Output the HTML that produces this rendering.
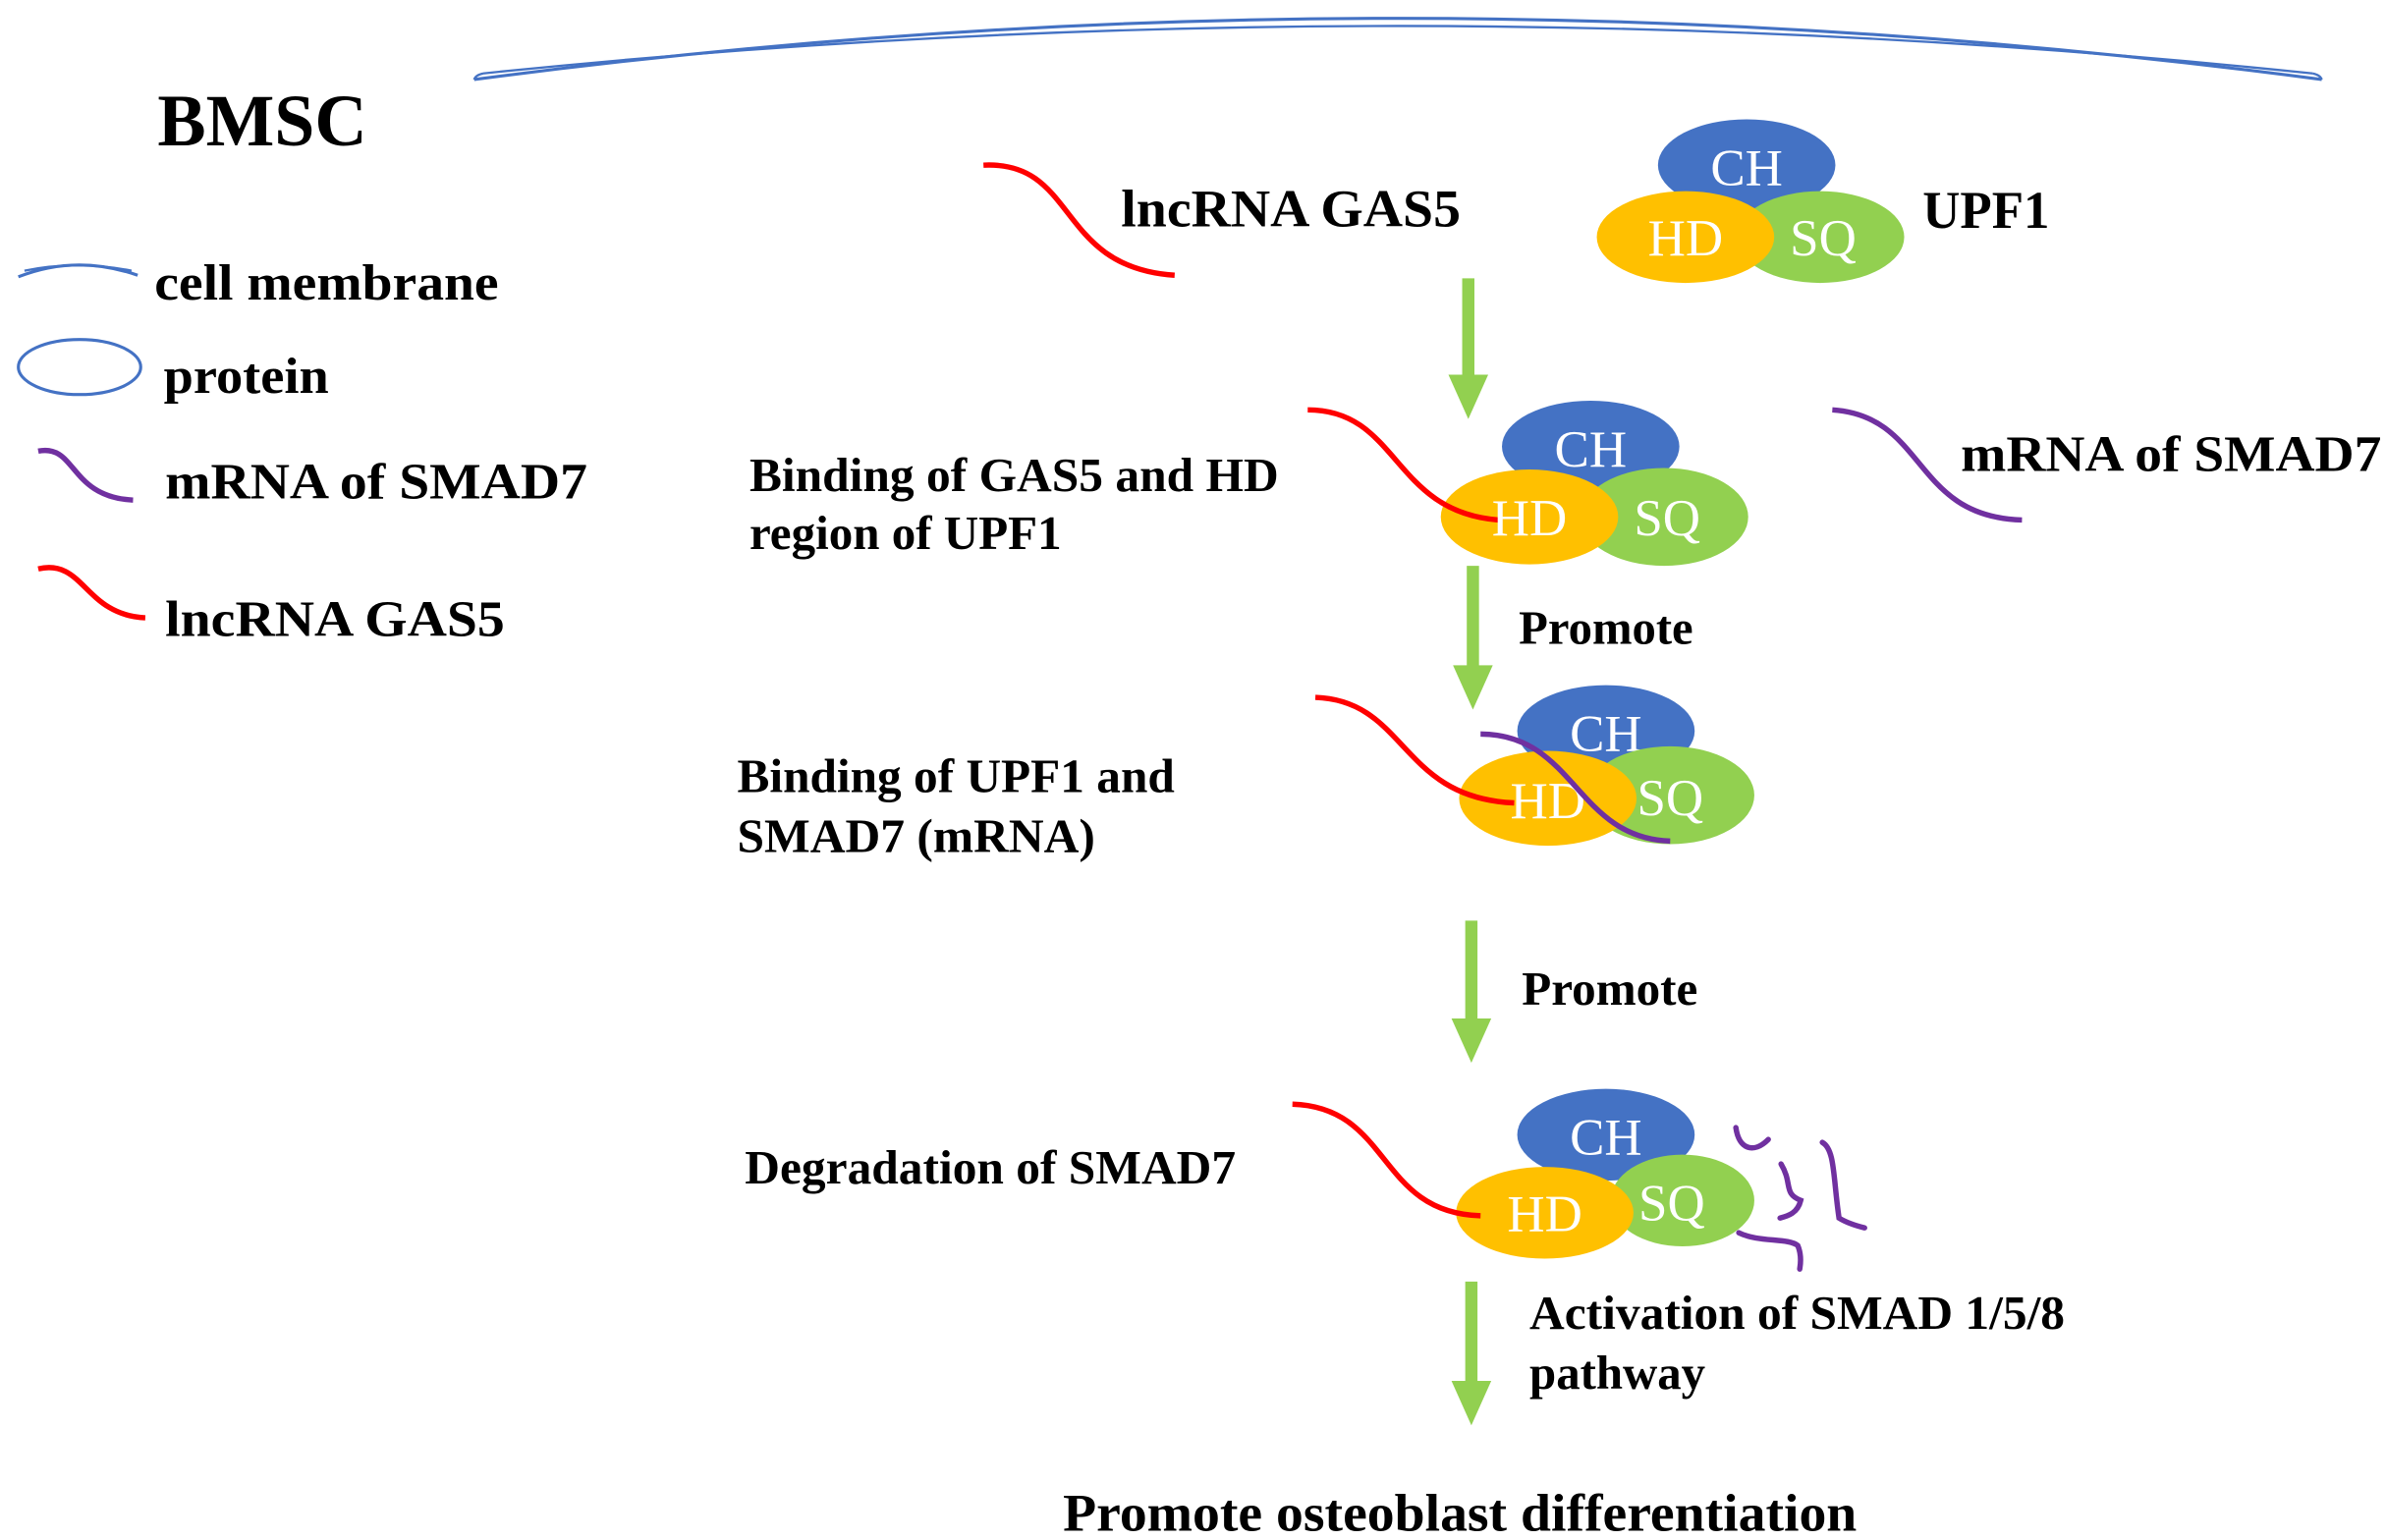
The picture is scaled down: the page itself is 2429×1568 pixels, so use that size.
<!DOCTYPE html>
<html><head><meta charset="utf-8"><style>
html,body{margin:0;padding:0;background:#fff;}
svg{display:block;}
text{font-family:"Liberation Serif",serif;}
.b{font-weight:bold;fill:#000;}
.w{fill:#fff;font-size:34px;}
</style></head><body>
<svg width="2429" height="1568" viewBox="0 0 1560 1007" preserveAspectRatio="none" xmlns="http://www.w3.org/2000/svg">
<!-- membrane -->
<path d="M310,52 Q915,-28 1518,52" fill="none" stroke="#4472c4" stroke-width="2"/>
<path d="M316,48 Q915,-14 1512,48" fill="none" stroke="#4472c4" stroke-width="1.5"/>
<path d="M310,52 Q311,49 316,48 M1518,52 Q1517,49 1512,48" fill="none" stroke="#4472c4" stroke-width="1.5"/>
<text x="103" y="95" class="b" font-size="48" textLength="137" lengthAdjust="spacingAndGlyphs">BMSC</text>
<!-- legend -->
<path d="M12,181 Q50,166 90,180" fill="none" stroke="#4472c4" stroke-width="2"/>
<path d="M16,177 Q50,170 86,177" fill="none" stroke="#4472c4" stroke-width="1.5"/>
<text x="101" y="196" class="b" font-size="33" textLength="225" lengthAdjust="spacingAndGlyphs">cell membrane</text>
<ellipse cx="52" cy="240" rx="40" ry="18" fill="none" stroke="#4472c4" stroke-width="2"/>
<text x="107" y="257" class="b" font-size="33" textLength="108" lengthAdjust="spacingAndGlyphs">protein</text>
<path d="M25,295 C50,290 45,325 87,327" fill="none" stroke="#7030a0" stroke-width="3.5"/>
<text x="108" y="326" class="b" font-size="33" textLength="276" lengthAdjust="spacingAndGlyphs">mRNA of SMAD7</text>
<path d="M25,372 C55,365 55,402 95,404" fill="none" stroke="#ff0000" stroke-width="3.5"/>
<text x="108" y="416" class="b" font-size="33" textLength="222" lengthAdjust="spacingAndGlyphs">lncRNA GAS5</text>
<!-- top -->
<path d="M643,108 C705,105 690,175 768,180" fill="none" stroke="#ff0000" stroke-width="3.5"/>
<text x="733" y="148" class="b" font-size="35" textLength="222" lengthAdjust="spacingAndGlyphs">lncRNA GAS5</text>
<ellipse cx="1142" cy="108" rx="58" ry="30" fill="#4472c4"/>
<text x="1142" y="121" class="w" text-anchor="middle">CH</text>
<ellipse cx="1190" cy="155" rx="55" ry="30" fill="#92d050"/>
<ellipse cx="1102" cy="155" rx="58" ry="30" fill="#ffc000"/>
<text x="1102" y="167" class="w" text-anchor="middle">HD</text>
<text x="1192" y="167" class="w" text-anchor="middle">SQ</text>
<text x="1257" y="149" class="b" font-size="35" textLength="83" lengthAdjust="spacingAndGlyphs">UPF1</text>
<!-- arrows -->
<g fill="#92d050" stroke="#92d050">
<line x1="960" y1="182" x2="960" y2="250" stroke-width="8"/><polygon points="947,245 973,245 960,274" stroke="none"/>
<line x1="963" y1="370" x2="963" y2="440" stroke-width="8"/><polygon points="950,435 976,435 963,464" stroke="none"/>
<line x1="962" y1="602" x2="962" y2="671" stroke-width="8"/><polygon points="949,666 975,666 962,695" stroke="none"/>
<line x1="962" y1="838" x2="962" y2="908" stroke-width="8"/><polygon points="949,903 975,903 962,932" stroke="none"/>
</g>
<!-- group 2 -->
<ellipse cx="1040" cy="292" rx="58" ry="30" fill="#4472c4"/>
<text x="1040" y="305" class="w" text-anchor="middle">CH</text>
<ellipse cx="1088" cy="338" rx="55" ry="32" fill="#92d050"/>
<ellipse cx="1000" cy="338" rx="58" ry="31" fill="#ffc000"/>
<path d="M855,268 C915,268 910,335 980,340" fill="none" stroke="#ff0000" stroke-width="3.5"/>
<text x="1000" y="350" class="w" text-anchor="middle">HD</text>
<text x="1090" y="350" class="w" text-anchor="middle">SQ</text>
<text x="490" y="321" class="b" font-size="31" textLength="346" lengthAdjust="spacingAndGlyphs">Binding of GAS5 and HD</text>
<text x="490" y="359" class="b" font-size="31" textLength="204" lengthAdjust="spacingAndGlyphs">region of UPF1</text>
<path d="M1198,268 C1260,272 1250,338 1322,340" fill="none" stroke="#7030a0" stroke-width="3.5"/>
<text x="1282" y="308" class="b" font-size="33" textLength="275" lengthAdjust="spacingAndGlyphs">mRNA of SMAD7</text>
<text x="993" y="421" class="b" font-size="31" textLength="114" lengthAdjust="spacingAndGlyphs">Promote</text>
<!-- group 3 -->
<ellipse cx="1050" cy="478" rx="58" ry="30" fill="#4472c4"/>
<text x="1050" y="491" class="w" text-anchor="middle">CH</text>
<ellipse cx="1092" cy="520" rx="55" ry="32" fill="#92d050"/>
<ellipse cx="1012" cy="522" rx="58" ry="31" fill="#ffc000"/>
<path d="M860,456 C920,458 915,522 990,525" fill="none" stroke="#ff0000" stroke-width="3.5"/>
<text x="1012" y="535" class="w" text-anchor="middle">HD</text>
<text x="1092" y="533" class="w" text-anchor="middle">SQ</text>
<path d="M968,480 C1030,480 1030,548 1092,550" fill="none" stroke="#7030a0" stroke-width="3.5"/>
<text x="482" y="518" class="b" font-size="31" textLength="286" lengthAdjust="spacingAndGlyphs">Binding of UPF1 and</text>
<text x="482" y="557" class="b" font-size="31" textLength="234" lengthAdjust="spacingAndGlyphs">SMAD7 (mRNA)</text>
<text x="995" y="657" class="b" font-size="31" textLength="115" lengthAdjust="spacingAndGlyphs">Promote</text>
<!-- group 4 -->
<ellipse cx="1050" cy="742" rx="58" ry="30" fill="#4472c4"/>
<text x="1050" y="755" class="w" text-anchor="middle">CH</text>
<ellipse cx="1100" cy="785" rx="47" ry="30" fill="#92d050"/>
<ellipse cx="1010" cy="793" rx="58" ry="30" fill="#ffc000"/>
<path d="M845,722 C910,724 900,793 968,795" fill="none" stroke="#ff0000" stroke-width="3.5"/>
<text x="1010" y="805" class="w" text-anchor="middle">HD</text>
<text x="1093" y="798" class="w" text-anchor="middle">SQ</text>
<g transform="scale(0.6423)" fill="none" stroke="#7030a0" stroke-width="5.5" stroke-linecap="round">
<path d="M1767,1148 C1770,1170 1785,1175 1800,1160"/>
<path d="M1813,1185 C1825,1205 1815,1215 1833,1222 C1830,1235 1820,1238 1812,1240"/>
<path d="M1855,1163 C1868,1170 1866,1200 1872,1240 C1880,1245 1890,1248 1898,1250"/>
<path d="M1770,1255 C1790,1265 1820,1260 1830,1268 C1835,1280 1832,1290 1832,1292"/>
</g>
<text x="487" y="774" class="b" font-size="31" textLength="321" lengthAdjust="spacingAndGlyphs">Degradation of SMAD7</text>
<text x="1000" y="869" class="b" font-size="31" textLength="350" lengthAdjust="spacingAndGlyphs">Activation of SMAD 1/5/8</text>
<text x="1000" y="908" class="b" font-size="31" textLength="115" lengthAdjust="spacingAndGlyphs">pathway</text>
<text x="695" y="1001" class="b" font-size="35" textLength="519" lengthAdjust="spacingAndGlyphs">Promote osteoblast differentiation</text>
</svg>
</body></html>
